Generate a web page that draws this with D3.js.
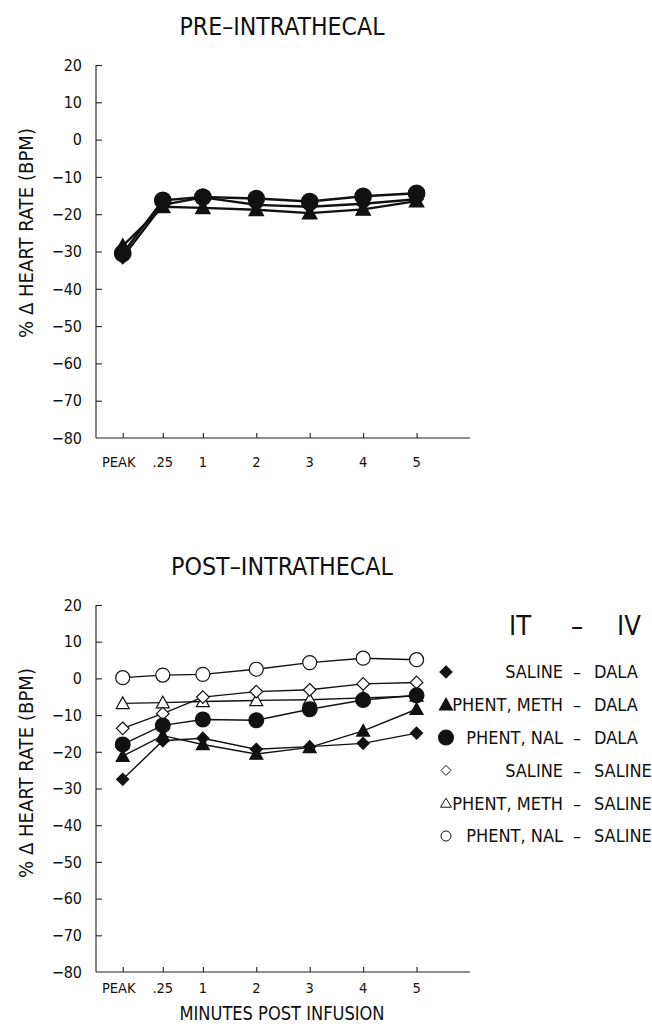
<!DOCTYPE html>
<html>
<head>
<meta charset="utf-8">
<script src="https://cdnjs.cloudflare.com/ajax/libs/d3/7.8.5/d3.min.js"></script>
<style>
  html, body { margin: 0; padding: 0; background: #fff; }
  svg { display: block; }
  text { font-family: "Liberation Sans Narrow", "DejaVu Sans Condensed", "Liberation Sans", Arial, sans-serif; fill: #111; }
</style>
</head>
<body>
<svg id="chart" width="652" height="1024"></svg>
<script>
// ---------- data ----------
const timeLabels = ["PEAK", ".25", "1", "2", "3", "4", "5"];
const timePos = [-0.5, 0.25, 1, 2, 3, 4, 5];   // position on the minutes axis
const yTicks = [20, 10, 0, -10, -20, -30, -40, -50, -60, -70, -80];

// PRE-INTRATHECAL
const preSalineDala = [-31.5, -17.5, -15.5, -17.5, -18, -17.2, -16];
const prePhentMethDala = [-28.5, -18, -18.3, -18.8, -19.7, -18.7, -16.5];
const prePhentNalDala = [-30.5, -16.3, -15.4, -15.8, -16.6, -15.2, -14.4];

// POST-INTRATHECAL
const postSalineDala = [-27.5, -17, -16.3, -19.3, -18.6, -17.7, -14.9];
const postPhentMethDala = [-21.2, -15.6, -18, -20.6, -18.8, -14.3, -8.4];
const postPhentNalDala = [-18, -12.8, -11.2, -11.4, -8.4, -5.9, -4.6];
const postSalineSaline = [-13.6, -9.6, -5.1, -3.6, -3.1, -1.5, -1.1];
const postPhentMethSaline = [-6.8, -6.6, -6.3, -6, -5.8, -5.3, -4.8];
const postPhentNalSaline = [0.2, 0.9, 1.1, 2.5, 4.3, 5.5, 5.1];

const legendIT = ["SALINE", "PHENT, METH", "PHENT, NAL", "SALINE", "PHENT, METH", "PHENT, NAL"];
const legendIV = ["DALA", "DALA", "DALA", "SALINE", "SALINE", "SALINE"];
const legendShapes = ["diamond", "triangle", "circle", "diamond", "triangle", "circle"];
const legendFilled = [true, true, true, false, false, false];

// ---------- drawing ----------
const svg = d3.select("#chart");

const x = d3.scaleLinear().domain([-1, 6]).range([96, 470]);

function marker(g, shape, filled, cx, cy, k) {
  const stroke = "#111";
  const fill = filled ? "#111" : "#fff";
  if (shape === "circle") {
    g.append("circle").attr("cx", cx).attr("cy", cy)
      .attr("r", (filled ? 7.4 : 7) * k)
      .attr("fill", fill).attr("stroke", stroke).attr("stroke-width", 1.2);
  } else if (shape === "diamond") {
    const s = (filled ? 6 : 6.3) * k;
    g.append("path")
      .attr("d", `M${cx},${cy - s}L${cx + s},${cy}L${cx},${cy + s}L${cx - s},${cy}Z`)
      .attr("fill", fill).attr("stroke", stroke).attr("stroke-width", 1.2);
  } else {
    const s = 6.5 * k;
    g.append("path")
      .attr("d", `M${cx},${cy - s}L${cx + s},${cy + s * 0.8}L${cx - s},${cy + s * 0.8}Z`)
      .attr("fill", fill).attr("stroke", stroke).attr("stroke-width", 1.2);
  }
}

function panel(opts) {
  const y = d3.scaleLinear().domain([-80, 20]).range([opts.bottom, opts.top]);
  const g = svg.append("g");

  // title
  g.append("text").attr("x", 282).attr("y", opts.titleY)
    .attr("text-anchor", "middle").attr("font-size", 25)
    .attr("textLength", opts.titleLen).attr("lengthAdjust", "spacingAndGlyphs")
    .text(opts.title);

  // y axis
  const yAxis = d3.axisRight(y).tickValues(yTicks).tickSize(6).tickFormat("");
  const ya = g.append("g").attr("transform", `translate(${x.range()[0]},0)`).call(yAxis);
  ya.select(".domain").attr("d", `M0,${y(20)}V${y(-80)}`).attr("stroke", "#222").attr("stroke-width", 1.1);
  ya.selectAll(".tick line").attr("stroke", "#222").attr("stroke-width", 1.1);
  ya.selectAll(".tick").filter(d => d === -80).remove();

  g.selectAll(".ylab").data(yTicks).join("text")
    .attr("x", 82).attr("y", d => y(d)).attr("dy", "0.36em")
    .attr("text-anchor", "end").attr("font-size", 16)
    .text(d => d < 0 ? "\u2212" + Math.abs(d) : d);

  // x axis
  const xAxis = d3.axisTop(x).tickValues(timePos).tickSize(5).tickFormat("");
  const xa = g.append("g").attr("transform", `translate(0,${y(-80)})`).call(xAxis);
  xa.select(".domain").attr("d", `M${x.range()[0]},0H${x.range()[1]}`).attr("stroke", "#222").attr("stroke-width", 1.1);
  xa.selectAll(".tick line").attr("stroke", "#222").attr("stroke-width", 1.1);

  g.selectAll(".xlab").data(timePos).join("text")
    .attr("x", (d, i) => i === 0 ? x(d) - 4 : x(d)).attr("y", opts.xLabY).attr("dy", "0.36em")
    .attr("text-anchor", "middle").attr("font-size", 14.5)
    .text((d, i) => timeLabels[i]);

  // y axis title
  g.append("text")
    .attr("transform", `translate(33,${opts.yTitleC}) rotate(-90)`)
    .attr("text-anchor", "middle").attr("font-size", 19)
    .attr("textLength", 210).attr("lengthAdjust", "spacingAndGlyphs")
    .text("% \u0394 HEART RATE (BPM)");

  // series
  const line = d3.line().x((d, i) => x(timePos[i])).y(d => y(d));
  opts.series.forEach(s => {
    g.append("path").datum(s.values).attr("d", line)
      .attr("fill", "none").attr("stroke", "#111").attr("stroke-width", opts.lw);
  });
  opts.series.forEach(s => {
    s.values.forEach((v, i) => marker(g, s.shape, s.filled, x(timePos[i]), y(v), opts.k));
  });
  return y;
}

panel({
  title: "PRE\u2013INTRATHECAL", titleY: 35, titleLen: 205,
  top: 65, bottom: 438, xLabY: 462, yTitleC: 233, lw: 2.4, k: 1.12,
  series: [
    { values: prePhentMethDala, shape: "triangle", filled: true },
    { values: preSalineDala, shape: "diamond", filled: true },
    { values: prePhentNalDala, shape: "circle", filled: true }
  ]
});

panel({
  title: "POST\u2013INTRATHECAL", titleY: 575, titleLen: 222,
  top: 605, bottom: 972, xLabY: 988, yTitleC: 773, lw: 1.4, k: 1,
  series: [
    { values: postPhentMethSaline, shape: "triangle", filled: false },
    { values: postPhentNalSaline, shape: "circle", filled: false },
    { values: postSalineSaline, shape: "diamond", filled: false },
    { values: postSalineDala, shape: "diamond", filled: true },
    { values: postPhentMethDala, shape: "triangle", filled: true },
    { values: postPhentNalDala, shape: "circle", filled: true }
  ]
});

// x axis title
svg.append("text").attr("x", 282).attr("y", 1020)
  .attr("text-anchor", "middle").attr("font-size", 19)
  .attr("textLength", 205).attr("lengthAdjust", "spacingAndGlyphs")
  .text("MINUTES POST INFUSION");

// legend
const lg = svg.append("g");
lg.append("text").attr("x", 520).attr("y", 635).attr("font-size", 27).attr("text-anchor", "middle").text("IT");
lg.append("text").attr("x", 577).attr("y", 635).attr("font-size", 27).attr("text-anchor", "middle").text("\u2013");
lg.append("text").attr("x", 629).attr("y", 635).attr("font-size", 27).attr("text-anchor", "middle").text("IV");

legendIT.forEach((t, i) => {
  const cy = 672 + i * 32.8;
  const filled = legendFilled[i];
  const shape = legendShapes[i];
  if (filled) {
    marker(lg, shape, true, 446, cy, 1);
  } else {
    if (shape === "circle") {
      lg.append("circle").attr("cx", 446).attr("cy", cy).attr("r", 5).attr("fill", "#fff").attr("stroke", "#111").attr("stroke-width", 1);
    } else if (shape === "diamond") {
      lg.append("path").attr("d", `M446,${cy - 5}L451,${cy}L446,${cy + 5}L441,${cy}Z`).attr("fill", "#fff").attr("stroke", "#111").attr("stroke-width", 1);
    } else {
      lg.append("path").attr("d", `M446,${cy - 5}L451.5,${cy + 4}L440.5,${cy + 4}Z`).attr("fill", "#fff").attr("stroke", "#111").attr("stroke-width", 1);
    }
  }
  lg.append("text").attr("x", 563).attr("y", cy).attr("dy", "0.36em").attr("font-size", 18)
    .attr("text-anchor", "end").text(t);
  lg.append("text").attr("x", 577).attr("y", cy).attr("dy", "0.36em").attr("font-size", 18)
    .attr("text-anchor", "middle").text("\u2013");
  lg.append("text").attr("x", 594).attr("y", cy).attr("dy", "0.36em").attr("font-size", 18)
    .attr("text-anchor", "start").text(legendIV[i]);
});
</script>
</body>
</html>
